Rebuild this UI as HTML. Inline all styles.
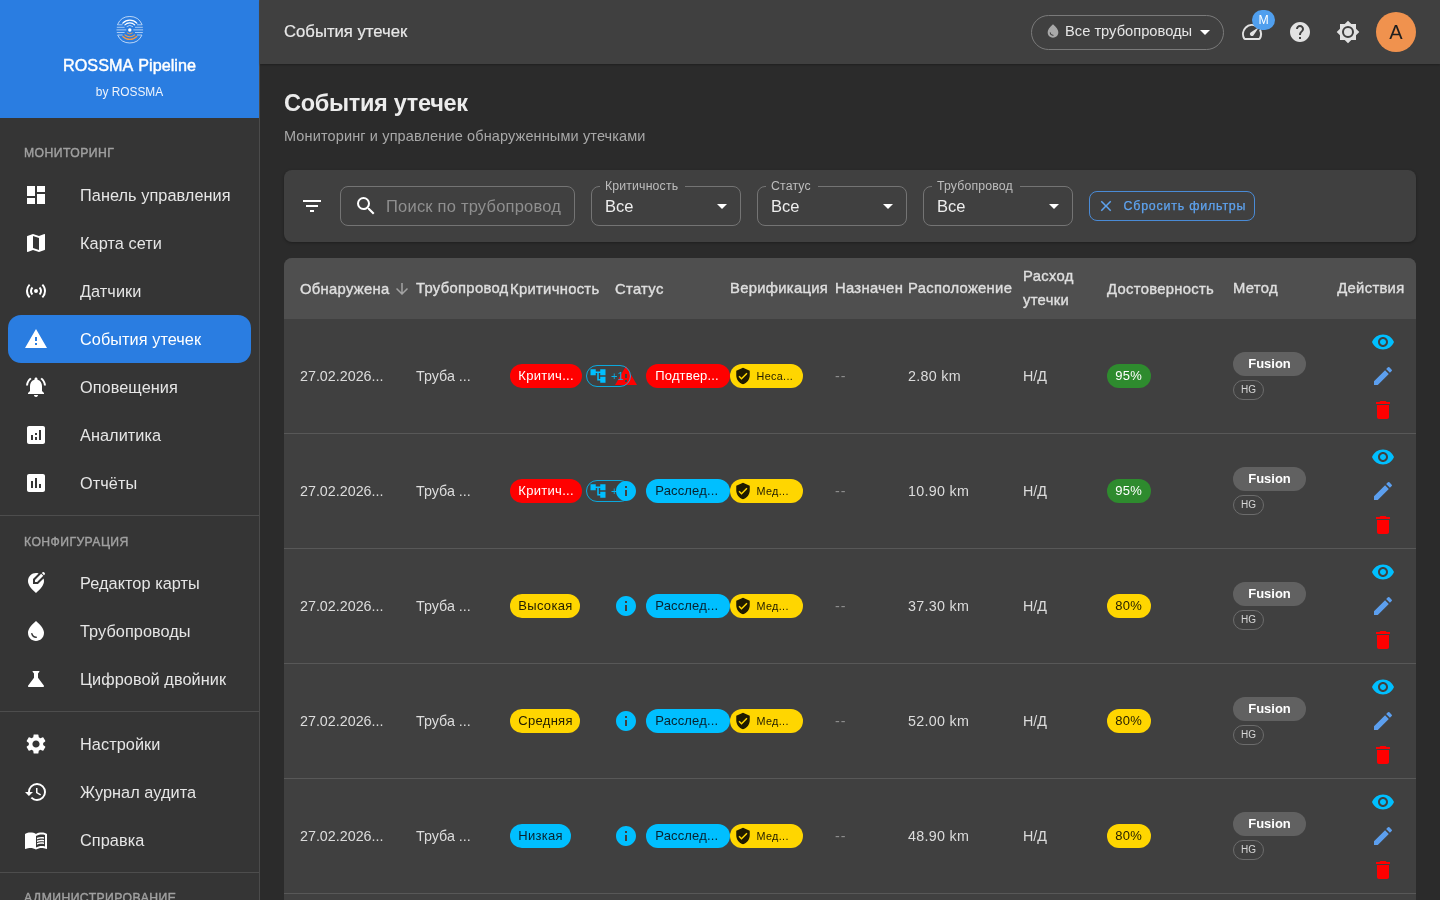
<!DOCTYPE html>
<html lang="ru">
<head>
<meta charset="utf-8">
<title>События утечек — ROSSMA Pipeline</title>
<style>
*{box-sizing:border-box;margin:0;padding:0}
html,body{width:1440px;height:900px;overflow:hidden;background:#2b2b2b;color:#e4e4e4;
  font-family:"Liberation Sans",sans-serif;font-size:16px}
svg{display:block;fill:currentColor}
#nav,#bar,#main{will-change:transform}
.abs{position:absolute}

/* ---------- sidebar ---------- */
#nav{position:absolute;left:0;top:0;width:260px;height:900px;background:#353535;border-right:1px solid #4b4b4b;overflow:hidden}
#brand{position:absolute;left:0;top:0;width:259px;height:118px;background:#2a7de1;color:#fff;text-align:center}
#brand svg.logo{position:absolute;left:116px;top:16px;width:28px;height:28px;fill:none}
#brand .t1{position:absolute;left:0;width:259px;top:55px;font-size:16.200px;font-weight:400;line-height:20px;-webkit-text-stroke:.45px #fff;word-spacing:1.500px}
#brand .t2{position:absolute;left:0;width:259px;top:84px;font-size:11.900px;line-height:16px;color:#f0f5fc}
.sub{position:absolute;left:24px;font-size:12.200px;font-weight:400;color:#a0a0a0;letter-spacing:.43px;line-height:16px;white-space:nowrap;-webkit-text-stroke:.4px #a0a0a0}
.hr{position:absolute;left:0;width:259px;height:1px;background:#4d4d4d}
.item{position:absolute;left:8px;width:243px;height:48px;border-radius:13px;color:#e6e6e6}
.item svg{position:absolute;left:16px;top:12px;width:24px;height:24px;fill:#fff}
.item span{position:absolute;left:72px;top:14.4px;font-size:16.3px;line-height:20px;white-space:nowrap;letter-spacing:.06px}
.item.on{background:#2a7de1;color:#fff}

/* ---------- app bar ---------- */
#bar{position:absolute;left:260px;top:0;width:1180px;height:64px;background:#404040;box-shadow:0 1px 2px rgba(0,0,0,.28)}
#bar .ttl{position:absolute;left:24px;top:21px;font-size:16.700px;line-height:22px;color:#e8e8e8;white-space:nowrap;-webkit-text-stroke:.2px #e8e8e8}
#pipe{position:absolute;left:771px;top:15px;width:193px;height:35px;border:1px solid #7a7a7a;border-radius:18px}
#pipe svg.d{position:absolute;left:13px;top:7px;width:16px;height:16px;fill:#a9a9a9}
#pipe span{position:absolute;left:33px;top:6px;font-size:14.7px;line-height:18px;color:#e6e6e6;white-space:nowrap}
#pipe svg.a{position:absolute;left:161px;top:4px;width:24px;height:24px;fill:#fff}
.tb{position:absolute;top:20px;width:24px;height:24px;fill:#e2e2e2}
#badge{position:absolute;left:992px;top:10px;width:23px;height:20px;border-radius:10px;background:#509fee;color:#fff;font-size:12.300px;line-height:20px;text-align:center}
#ava{position:absolute;left:1116px;top:12px;width:40px;height:40px;border-radius:20px;background:#f0924e;color:#1f1f1f;font-size:20px;line-height:41px;text-align:center}

/* ---------- page ---------- */
#main{position:absolute;left:260px;top:64px;width:1180px;height:836px;overflow:hidden}
h1{position:absolute;left:24px;top:24px;font-size:23.5px;line-height:30px;font-weight:700;color:#ececec;white-space:nowrap;letter-spacing:-.3px}
.lead{position:absolute;left:24px;top:62px;font-size:14.5px;line-height:20px;color:#a8a8a8;white-space:nowrap;letter-spacing:.13px}
#filt{position:absolute;left:24px;top:106px;width:1132px;height:72px;border-radius:8px;background:#404040;box-shadow:0 1px 3px rgba(0,0,0,.3)}
.fld{position:absolute;top:16px;height:40px;border:1px solid #747474;border-radius:8px}
.fld label{position:absolute;left:8px;top:-8px;padding:0 7px 0 5px;background:#404040;font-size:12.3px;line-height:14px;color:#bdbdbd;white-space:nowrap;letter-spacing:.15px}
.fld .v{position:absolute;left:13px;top:9px;font-size:16.5px;line-height:20px;color:#ededed}
.fld svg.a{position:absolute;right:6px;top:7px;width:24px;height:24px;fill:#fff}
#reset{position:absolute;left:805px;top:21px;width:166px;height:30px;border:1px solid #4a8bd6;border-radius:8px;color:#5ea3ef}
#reset svg{position:absolute;left:7px;top:5px;width:18px;height:18px}
#reset span{position:absolute;left:33.500px;top:6px;font-size:12.400px;line-height:16px;font-weight:400;white-space:nowrap;letter-spacing:.81px;-webkit-text-stroke:.25px #5ea3ef}

/* ---------- table ---------- */
#tbl{position:absolute;left:24px;top:194px;width:1132px;height:660px;border-radius:8px 8px 0 0;background:#404040;overflow:hidden}
#thead{position:absolute;left:0;top:0;width:1132px;height:61px;background:#4f4f4f}
#thead b{position:absolute;font-size:14.8px;line-height:24px;font-weight:400;color:#dedede;white-space:nowrap;letter-spacing:.3px;-webkit-text-stroke:.4px #dedede}
.row{position:absolute;left:0;width:1132px;height:115px;border-bottom:1px solid #585858}
.row .c{position:absolute;top:47px;font-size:14.3px;line-height:20px;color:#dcdcdc;white-space:nowrap}
.row .dim{color:#8c8c8c;letter-spacing:1px}
.row .loc{letter-spacing:.3px}
.chip{position:absolute;top:45px;height:24px;border-radius:12px;font-size:13px;line-height:24px;padding-left:8.300px;white-space:nowrap;letter-spacing:.3px;overflow:hidden}
.red{background:#ff0000;color:#fff}
.yel{background:#ffd600;color:#221d00}
.cya{background:#00bfff;color:#08222e}
.grn{background:#2e8b2e;color:#fff}
.clu{position:absolute;left:302px;top:46px;width:45px;height:22px;border:1px solid rgba(0,191,255,.82);border-radius:11px;color:rgba(0,191,255,.9)}
.clu svg{position:absolute;left:2px;top:1px;width:18px;height:18px;fill:#00bfff}
.clu span{position:absolute;left:24px;top:3px;font-size:11px;line-height:14px}
.ic{position:absolute;left:330px;top:45px;width:24px;height:24px}
.ic.warn{fill:#ff0000}
.ic.info{fill:#00bfff}
.ver{padding-left:26.500px;width:73px;font-size:10.800px;letter-spacing:.35px}
.ver svg{position:absolute;left:4px;top:3px;width:18px;height:18px;fill:#1f1a00}
.fus{position:absolute;left:949px;top:33px;width:73px;height:24px;border-radius:12px;background:#616161;color:#fff;font-size:13px;font-weight:700;line-height:24px;text-align:center}
.hg{position:absolute;left:949px;top:61px;width:31px;height:20px;border-radius:10px;border:1px solid #6c6c6c;color:#d6d6d6;font-size:10px;line-height:18px;text-align:center}
.act{position:absolute;left:1087px;width:24px;height:24px}
</style>
</head>
<body>
<div id="nav">
  <div id="brand">
    <svg class="logo" viewBox="0 0 28 28">
      <path d="M1.500 8.700A13.300 13.300 0 0 1 26.100 8.700M1.700 19.200A13.300 13.300 0 0 0 25.900 19.200" stroke="#fff" stroke-opacity=".85" stroke-width=".8"/>
      <g stroke="#fff" stroke-linecap="round">
        <path d="M6.8 7.1A9.8 9.8 0 0 1 20.8 7.100" stroke-width="1.3"/>
        <path d="M8.9 8.8A7.1 7.1 0 0 1 18.7 8.8" stroke-width="1.1"/>
        <path d="M11 10.400A4.500 4.500 0 0 1 16.600 10.400" stroke-width=".8" stroke-opacity=".8"/>
      </g>
      <g stroke="#f39a4a" stroke-linecap="round">
        <path d="M6.800 20.500A9.800 9.800 0 0 0 20.800 20.500" stroke-width="1.300"/>
        <path d="M8.900 18.800A7.100 7.100 0 0 0 18.700 18.800" stroke-width="1.100"/>
        <path d="M11.200 17A4.200 4.200 0 0 0 16.400 17" stroke-width=".9"/>
      </g>
      <circle cx="13.800" cy="14" r="1.700" fill="#fff"/>
      <g stroke="#fff" stroke-opacity=".85" stroke-width=".7">
        <path d="M1.400 8.800H6.600M.800 11.300H8.600M.500 13.900H10.300M.800 16.500H8.600M1.600 19H6.600"/>
        <path d="M21 8.800H26.200M19 11.300H26.800M17.300 13.900H27.100M19 16.500H26.800M21 19H26"/>
      </g>
    </svg>
    <div class="t1">ROSSMA Pipeline</div>
    <div class="t2">by ROSSMA</div>
  </div>

  <div class="sub" style="top:145px">МОНИТОРИНГ</div>
  <div class="item" style="top:171px"><svg viewBox="0 0 24 24"><path d="M3 13h8V3H3v10zm0 8h8v-6H3v6zm10 0h8V11h-8v10zm0-18v6h8V3h-8z"/></svg><span>Панель управления</span></div>
  <div class="item" style="top:219px"><svg viewBox="0 0 24 24"><path d="M20.500 3l-.16.030L15 5.100 9 3 3.360 4.900c-.21.070-.36.250-.36.480V20.500c0 .28.220.5.500.5l.16-.030L9 18.900l6 2.100 5.640-1.900c.21-.070.36-.250.360-.480V3.500c0-.28-.22-.5-.5-.5zM15 19l-6-2.110V5l6 2.110V19z"/></svg><span>Карта сети</span></div>
  <div class="item" style="top:267px"><svg viewBox="0 0 24 24"><path d="M4.930 4.930A9.970 9.970 0 0 0 2 12c0 2.760 1.120 5.260 2.930 7.070l1.410-1.410A7.940 7.940 0 0 1 4 12c0-2.210.89-4.220 2.340-5.660zm14.140 0-1.410 1.410A7.960 7.960 0 0 1 20 12c0 2.220-.89 4.220-2.340 5.660l1.410 1.410A9.970 9.970 0 0 0 22 12c0-2.760-1.120-5.260-2.930-7.070M7.760 7.760A5.980 5.980 0 0 0 6 12c0 1.650.67 3.150 1.760 4.240l1.410-1.410A4 4 0 0 1 8 12c0-1.110.45-2.110 1.170-2.830zm8.480 0-1.410 1.410A4 4 0 0 1 16 12c0 1.110-.45 2.110-1.170 2.830l1.410 1.410A5.980 5.980 0 0 0 18 12c0-1.650-.67-3.150-1.760-4.240M12 10a2 2 0 0 0-2 2 2 2 0 0 0 2 2 2 2 0 0 0 2-2 2 2 0 0 0-2-2"/></svg><span>Датчики</span></div>
  <div class="item on" style="top:315px"><svg viewBox="0 0 24 24"><path d="M1 21h22L12 2 1 21zm12-3h-2v-2h2v2zm0-4h-2v-4h2v4z"/></svg><span>События утечек</span></div>
  <div class="item" style="top:363px"><svg viewBox="0 0 24 24"><path d="M7.580 4.080L6.150 2.650C3.750 4.480 2.170 7.300 2.030 10.500h2c.15-2.650 1.510-4.970 3.550-6.420zm12.390 6.420h2c-.15-3.200-1.730-6.020-4.120-7.850l-1.420 1.430c2.020 1.450 3.390 3.770 3.540 6.420zM18 11c0-3.070-1.640-5.640-4.500-6.320V4c0-.83-.67-1.500-1.500-1.500s-1.500.67-1.500 1.500v.68C7.630 5.360 6 7.920 6 11v5l-2 2v1h16v-1l-2-2v-5zm-6 11c.14 0 .27-.010.4-.040.65-.14 1.180-.58 1.440-1.180.1-.24.150-.5.150-.78h-4c.01 1.100.9 2 2.010 2z"/></svg><span>Оповещения</span></div>
  <div class="item" style="top:411px"><svg viewBox="0 0 24 24"><path d="M19 3H5c-1.100 0-2 .9-2 2v14c0 1.100.9 2 2 2h14c1.100 0 2-.9 2-2V5c0-1.100-.9-2-2-2zM9 17H7v-5h2v5zm4 0h-2v-3h2v3zm0-5h-2v-2h2v2zm4 5h-2V7h2v10z"/></svg><span>Аналитика</span></div>
  <div class="item" style="top:459px"><svg viewBox="0 0 24 24"><path d="M19 3H5c-1.100 0-2 .9-2 2v14c0 1.100.9 2 2 2h14c1.100 0 2-.9 2-2V5c0-1.100-.9-2-2-2zM9 17H7v-7h2v7zm4 0h-2V7h2v10zm4 0h-2v-4h2v4z"/></svg><span>Отчёты</span></div>

  <div class="hr" style="top:515px"></div>
  <div class="sub" style="top:534px">КОНФИГУРАЦИЯ</div>
  <div class="item" style="top:559px"><svg viewBox="0 0 24 24"><path d="M13.950 13H9V8.050l5.610-5.610C13.780 2.160 12.900 2 12 2c-4.200 0-8 3.220-8 8.200 0 3.320 2.670 7.250 8 11.800 5.330-4.550 8-8.480 8-11.800 0-1.010-.16-1.940-.45-2.800L13.950 13z"/><path d="M11 11h2.120l6.160-6.160-2.120-2.120L11 8.880V11zM20.710 2L20 1.290a.996.996 0 0 0-1.410 0l-.72.720 2.120 2.120.72-.72c.39-.39.39-1.020 0-1.410z"/></svg><span>Редактор карты</span></div>
  <div class="item" style="top:607px"><svg viewBox="0 0 24 24"><path d="M12 2c-5.330 4.550-8 8.480-8 11.800 0 4.980 3.800 8.200 8 8.200s8-3.220 8-8.200c0-3.320-2.670-7.250-8-11.800zM7.830 14c.37 0 .67.260.74.620.41 2.220 2.280 2.980 3.640 2.870.43-.020.79.320.79.750 0 .4-.32.730-.72.750-2.130.13-4.620-1.090-5.190-4.120a.75.75 0 0 1 .74-.87z"/></svg><span>Трубопроводы</span></div>
  <div class="item" style="top:655px"><svg viewBox="0 0 24 24"><path d="M19.800 18.400L14 10.670V6.500l1.350-1.690c.26-.33.030-.81-.39-.81H9.040c-.42 0-.65.480-.39.810L10 6.500v4.170L4.200 18.400c-.49.660-.02 1.600.8 1.600h14c.82 0 1.290-.94.800-1.600z"/></svg><span>Цифровой двойник</span></div>

  <div class="hr" style="top:711px"></div>
  <div class="item" style="top:720px"><svg viewBox="0 0 24 24"><path d="M19.140 12.940c.04-.3.060-.61.060-.94 0-.32-.02-.64-.07-.94l2.030-1.580a.49.490 0 0 0 .12-.61l-1.920-3.320a.488.488 0 0 0-.59-.22l-2.390.96c-.5-.38-1.030-.7-1.620-.94l-.36-2.540a.484.484 0 0 0-.48-.41h-3.840c-.24 0-.43.170-.47.410l-.36 2.540c-.59.240-1.130.57-1.620.94l-2.390-.96c-.22-.08-.47 0-.59.220L2.740 8.870c-.12.210-.08.470.12.610l2.030 1.580c-.05.3-.09.630-.09.940s.02.640.07.940l-2.030 1.580a.49.490 0 0 0-.12.610l1.920 3.320c.12.220.37.290.59.220l2.390-.96c.5.380 1.030.7 1.620.94l.36 2.540c.05.240.24.410.48.410h3.840c.24 0 .44-.17.470-.41l.36-2.540c.59-.24 1.130-.56 1.620-.94l2.390.96c.22.080.47 0 .59-.22l1.920-3.320c.12-.22.070-.47-.12-.61l-2.010-1.580zM12 15.600c-1.980 0-3.600-1.620-3.600-3.600s1.620-3.600 3.600-3.600 3.600 1.620 3.600 3.600-1.620 3.600-3.600 3.600z"/></svg><span>Настройки</span></div>
  <div class="item" style="top:768px"><svg viewBox="0 0 24 24"><path d="M13 3a9 9 0 0 0-9 9H1l3.890 3.890.07.140L9 12H6c0-3.870 3.130-7 7-7s7 3.130 7 7-3.130 7-7 7c-1.930 0-3.680-.79-4.940-2.060l-1.420 1.420A8.954 8.954 0 0 0 13 21a9 9 0 0 0 0-18zm-1 5v5l4.280 2.540.72-1.210-3.500-2.080V8H12z"/></svg><span>Журнал аудита</span></div>
  <div class="item" style="top:816px"><svg viewBox="0 0 24 24"><path d="M12 21.500c-1.350-.85-3.800-1.500-5.500-1.500-1.650 0-3.350.3-4.750 1.050-.1.050-.15.050-.25.050-.25 0-.5-.25-.5-.5V6c.6-.45 1.250-.75 2-1 1.110-.35 2.330-.5 3.500-.5 1.950 0 4.050.4 5.500 1.500 1.450-1.100 3.550-1.500 5.500-1.500 1.170 0 2.390.15 3.500.5.750.25 1.400.55 2 1v14.600c0 .25-.25.5-.5.5-.1 0-.15 0-.25-.05-1.400-.75-3.100-1.050-4.750-1.050-1.700 0-4.150.65-5.500 1.500M12 8v11.500c1.350-.85 3.800-1.500 5.500-1.500 1.200 0 2.400.15 3.500.5V7c-1.100-.35-2.300-.5-3.500-.5-1.700 0-4.150.65-5.500 1.500m1 3.500c1.110-.68 2.600-1 4.500-1 .91 0 1.760.09 2.500.28V9.230c-.87-.15-1.710-.23-2.500-.23q-2.655 0-4.500.84zm4.500.17c-1.710 0-3.210.26-4.500.79v1.690c1.110-.65 2.600-.99 4.500-.99 1.040 0 1.880.08 2.500.24v-1.500c-.87-.16-1.710-.23-2.500-.23m2.500 2.900c-.87-.16-1.710-.24-2.500-.24-1.830 0-3.330.27-4.500.8v1.690c1.110-.66 2.600-.99 4.500-.99 1.040 0 1.880.08 2.500.24z"/></svg><span>Справка</span></div>

  <div class="hr" style="top:872px"></div>
  <div class="sub" style="top:890px">АДМИНИСТРИРОВАНИЕ</div>
</div>
<div id="bar">
  <div class="ttl">События утечек</div>
  <div id="pipe">
    <svg class="d" viewBox="0 0 24 24"><path d="M12 2c-5.330 4.550-8 8.480-8 11.800 0 4.980 3.800 8.200 8 8.200s8-3.220 8-8.200c0-3.320-2.670-7.250-8-11.800zM7.830 14c.37 0 .67.260.74.620.41 2.220 2.280 2.980 3.640 2.870.43-.020.79.320.79.750 0 .4-.32.730-.72.750-2.130.13-4.620-1.090-5.190-4.120a.75.75 0 0 1 .74-.87z"/></svg>
    <span>Все трубопроводы</span>
    <svg class="a" viewBox="0 0 24 24"><path d="M7 10l5 5 5-5z"/></svg>
  </div>
  <svg class="tb" style="left:980px" viewBox="0 0 24 24"><path d="M20.380 8.570l-1.230 1.850a8 8 0 0 1-.22 7.580H5.070A8 8 0 0 1 15.580 6.850l1.850-1.230A10 10 0 0 0 3.350 19a2 2 0 0 0 1.720 1h13.850a2 2 0 0 0 1.740-1 10 10 0 0 0-.27-10.440zm-9.790 6.840a2 2 0 0 0 2.830 0l5.660-8.490-8.490 5.660a2 2 0 0 0 0 2.830z"/></svg>
  <div id="badge">M</div>
  <svg class="tb" style="left:1028px" viewBox="0 0 24 24"><path d="M12 2C6.480 2 2 6.480 2 12s4.480 10 10 10 10-4.480 10-10S17.520 2 12 2zm1 17h-2v-2h2v2zm2.070-7.750l-.9.920C13.450 12.900 13 13.500 13 15h-2v-.5c0-1.100.45-2.100 1.170-2.830l1.240-1.260c.37-.36.590-.86.590-1.410 0-1.100-.9-2-2-2s-2 .9-2 2H8c0-2.210 1.790-4 4-4s4 1.790 4 4c0 .88-.36 1.680-.93 2.250z"/></svg>
  <svg class="tb" style="left:1076px" viewBox="0 0 24 24"><path d="M12 8a4 4 0 0 0-4 4 4 4 0 0 0 4 4 4 4 0 0 0 4-4 4 4 0 0 0-4-4m0 10a6 6 0 0 1-6-6 6 6 0 0 1 6-6 6 6 0 0 1 6 6 6 6 0 0 1-6 6m8-9.310V4h-4.690L12 .69 8.690 4H4v4.690L.69 12 4 15.310V20h4.690L12 23.310 15.310 20H20v-4.690L23.310 12z"/></svg>
  <div id="ava">A</div>
</div>
<div id="main">
  <h1>События утечек</h1>
  <div class="lead">Мониторинг и управление обнаруженными утечками</div>
  <div id="filt">
    <svg class="abs" style="left:16px;top:24px;width:24px;height:24px;fill:#fff" viewBox="0 0 24 24"><path d="M10 18h4v-2h-4v2zM3 6v2h18V6H3zm3 7h12v-2H6v2z"/></svg>
    <div class="fld" style="left:56px;width:235px">
      <svg class="abs" style="left:13px;top:7px;width:24px;height:24px;fill:#fff" viewBox="0 0 24 24"><path d="M15.500 14h-.79l-.28-.27A6.471 6.471 0 0 0 16 9.500 6.500 6.500 0 1 0 9.500 16c1.610 0 3.090-.59 4.230-1.570l.27.280v.79l5 4.990L20.490 19l-4.990-5zm-6 0C7.010 14 5 11.990 5 9.500S7.010 5 9.500 5 14 7.010 14 9.500 11.990 14 9.500 14z"/></svg>
      <div class="v" style="left:45px;width:175px;overflow:hidden;color:#8f8f8f;white-space:nowrap;letter-spacing:.21px">Поиск по трубопроводу</div>
    </div>
    <div class="fld" style="left:307px;width:150px"><label>Критичность</label><div class="v">Все</div><svg class="a" viewBox="0 0 24 24"><path d="M7 10l5 5 5-5z"/></svg></div>
    <div class="fld" style="left:473px;width:150px"><label>Статус</label><div class="v">Все</div><svg class="a" viewBox="0 0 24 24"><path d="M7 10l5 5 5-5z"/></svg></div>
    <div class="fld" style="left:639px;width:150px"><label>Трубопровод</label><div class="v">Все</div><svg class="a" viewBox="0 0 24 24"><path d="M7 10l5 5 5-5z"/></svg></div>
    <div id="reset"><svg viewBox="0 0 24 24"><path d="M19 6.410L17.590 5 12 10.590 6.410 5 5 6.410 10.590 12 5 17.590 6.410 19 12 13.410 17.590 19 19 17.590 13.410 12z"/></svg><span>Сбросить фильтры</span></div>
  </div>
  <div id="tbl">
    <div id="thead">
      <b style="left:16px;top:19px">Обнаружена</b>
      <svg class="abs" style="left:109px;top:22px;width:18px;height:18px;fill:#a3a3a3" viewBox="0 0 24 24"><path d="M20 12l-1.410-1.410L13 16.170V4h-2v12.170l-5.580-5.590L4 12l8 8 8-8z"/></svg>
      <b style="left:132px;top:18px">Трубопровод</b>
      <b style="left:226px;top:19px">Критичность</b>
      <b style="left:331px;top:19px">Статус</b>
      <b style="left:446px;top:18px">Верификация</b>
      <b style="left:551px;top:18px">Назначен</b>
      <b style="left:624px;top:18px">Расположение</b>
      <b style="left:739px;top:6px">Расход<br>утечки</b>
      <b style="left:823px;top:19px">Достоверность</b>
      <b style="left:949px;top:18px">Метод</b>
      <b style="right:11.5px;top:18px">Действия</b>
    </div>
    <div class="row" style="top:61px">
      <div class="c" style="left:16px">27.02.2026...</div>
      <div class="c" style="left:132px">Труба ...</div>
      <div class="chip red" style="left:226px;width:72px">Критич...</div>
      <svg class="ic warn" viewBox="0 0 24 24"><path d="M1 21h22L12 2 1 21zm12-3h-2v-2h2v2zm0-4h-2v-4h2v4z"/></svg>
      <div class="clu"><svg viewBox="0 0 24 24"><path d="M22 11V3h-7v3H9V3H2v8h7V8h2v10h4v3h7v-8h-7v3h-2V8h2v3z"/></svg><span>+1</span></div>
      <div class="chip red" style="left:362px;width:84px;letter-spacing:.15px;padding-left:9.300px">Подтвер...</div>
      <div class="chip yel ver" style="left:446px"><svg viewBox="0 0 24 24"><path d="M12 1L3 5v6c0 5.550 3.840 10.740 9 12 5.160-1.260 9-6.450 9-12V5l-9-4zm-2 16l-4-4 1.410-1.410L10 14.170l6.590-6.590L18 9l-8 8z"/></svg><span>Неса...</span></div>
      <div class="c dim" style="left:551px">--</div>
      <div class="c loc" style="left:624px">2.80 km</div>
      <div class="c" style="left:739px">Н/Д</div>
      <div class="chip grn" style="left:823px;width:44px">95%</div>
      <div class="fus">Fusion</div>
      <div class="hg">HG</div>
      <svg class="act" style="top:11px;fill:#00bfff" viewBox="0 0 24 24"><path d="M12 4.500C7 4.500 2.730 7.610 1 12c1.730 4.390 6 7.500 11 7.500s9.270-3.110 11-7.500c-1.730-4.390-6-7.500-11-7.500zM12 17c-2.760 0-5-2.240-5-5s2.240-5 5-5 5 2.240 5 5-2.240 5-5 5zm0-8c-1.660 0-3 1.340-3 3s1.340 3 3 3 3-1.340 3-3-1.340-3-3-3z"/></svg>
      <svg class="act" style="top:45px;fill:#5c9fee" viewBox="0 0 24 24"><path d="M3 17.250V21h3.750L17.810 9.940l-3.750-3.750L3 17.250zM20.710 7.040a.996.996 0 0 0 0-1.410l-2.340-2.340a.996.996 0 0 0-1.410 0l-1.830 1.830 3.750 3.750 1.830-1.830z"/></svg>
      <svg class="act" style="top:79px;fill:#ff0000" viewBox="0 0 24 24"><path d="M6 19c0 1.100.9 2 2 2h8c1.100 0 2-.9 2-2V7H6v12zM19 4h-3.500l-1-1h-5l-1 1H5v2h14V4z"/></svg>
    </div>
    <div class="row" style="top:176px">
      <div class="c" style="left:16px">27.02.2026...</div>
      <div class="c" style="left:132px">Труба ...</div>
      <div class="chip red" style="left:226px;width:72px">Критич...</div>
      <svg class="ic info" viewBox="0 0 24 24"><path d="M12 2C6.480 2 2 6.480 2 12s4.480 10 10 10 10-4.480 10-10S17.520 2 12 2zm1 15h-2v-6h2v6zm0-8h-2V7h2v2z"/></svg>
      <div class="clu"><svg viewBox="0 0 24 24"><path d="M22 11V3h-7v3H9V3H2v8h7V8h2v10h4v3h7v-8h-7v3h-2V8h2v3z"/></svg><span>+1</span></div>
      <div class="chip cya" style="left:362px;width:84px;letter-spacing:.15px;padding-left:9.300px">Расслед...</div>
      <div class="chip yel ver" style="left:446px"><svg viewBox="0 0 24 24"><path d="M12 1L3 5v6c0 5.550 3.840 10.740 9 12 5.160-1.260 9-6.450 9-12V5l-9-4zm-2 16l-4-4 1.410-1.410L10 14.170l6.590-6.590L18 9l-8 8z"/></svg><span>Мед...</span></div>
      <div class="c dim" style="left:551px">--</div>
      <div class="c loc" style="left:624px">10.90 km</div>
      <div class="c" style="left:739px">Н/Д</div>
      <div class="chip grn" style="left:823px;width:44px">95%</div>
      <div class="fus">Fusion</div>
      <div class="hg">HG</div>
      <svg class="act" style="top:11px;fill:#00bfff" viewBox="0 0 24 24"><path d="M12 4.500C7 4.500 2.730 7.610 1 12c1.730 4.390 6 7.500 11 7.500s9.270-3.110 11-7.500c-1.730-4.390-6-7.500-11-7.500zM12 17c-2.760 0-5-2.240-5-5s2.240-5 5-5 5 2.240 5 5-2.240 5-5 5zm0-8c-1.660 0-3 1.340-3 3s1.340 3 3 3 3-1.340 3-3-1.340-3-3-3z"/></svg>
      <svg class="act" style="top:45px;fill:#5c9fee" viewBox="0 0 24 24"><path d="M3 17.250V21h3.750L17.810 9.940l-3.750-3.750L3 17.250zM20.710 7.040a.996.996 0 0 0 0-1.410l-2.340-2.340a.996.996 0 0 0-1.410 0l-1.830 1.830 3.750 3.750 1.830-1.830z"/></svg>
      <svg class="act" style="top:79px;fill:#ff0000" viewBox="0 0 24 24"><path d="M6 19c0 1.100.9 2 2 2h8c1.100 0 2-.9 2-2V7H6v12zM19 4h-3.500l-1-1h-5l-1 1H5v2h14V4z"/></svg>
    </div>
    <div class="row" style="top:291px">
      <div class="c" style="left:16px">27.02.2026...</div>
      <div class="c" style="left:132px">Труба ...</div>
      <div class="chip yel" style="left:226px;width:70px">Высокая</div>
      <svg class="ic info" viewBox="0 0 24 24"><path d="M12 2C6.480 2 2 6.480 2 12s4.480 10 10 10 10-4.480 10-10S17.520 2 12 2zm1 15h-2v-6h2v6zm0-8h-2V7h2v2z"/></svg>
      <div class="chip cya" style="left:362px;width:84px;letter-spacing:.15px;padding-left:9.300px">Расслед...</div>
      <div class="chip yel ver" style="left:446px"><svg viewBox="0 0 24 24"><path d="M12 1L3 5v6c0 5.550 3.840 10.740 9 12 5.160-1.260 9-6.450 9-12V5l-9-4zm-2 16l-4-4 1.410-1.410L10 14.170l6.590-6.590L18 9l-8 8z"/></svg><span>Мед...</span></div>
      <div class="c dim" style="left:551px">--</div>
      <div class="c loc" style="left:624px">37.30 km</div>
      <div class="c" style="left:739px">Н/Д</div>
      <div class="chip yel" style="left:823px;width:44px">80%</div>
      <div class="fus">Fusion</div>
      <div class="hg">HG</div>
      <svg class="act" style="top:11px;fill:#00bfff" viewBox="0 0 24 24"><path d="M12 4.500C7 4.500 2.730 7.610 1 12c1.730 4.390 6 7.500 11 7.500s9.270-3.110 11-7.500c-1.730-4.390-6-7.500-11-7.500zM12 17c-2.760 0-5-2.240-5-5s2.240-5 5-5 5 2.240 5 5-2.240 5-5 5zm0-8c-1.660 0-3 1.340-3 3s1.340 3 3 3 3-1.340 3-3-1.340-3-3-3z"/></svg>
      <svg class="act" style="top:45px;fill:#5c9fee" viewBox="0 0 24 24"><path d="M3 17.250V21h3.750L17.810 9.940l-3.750-3.750L3 17.250zM20.710 7.040a.996.996 0 0 0 0-1.410l-2.340-2.340a.996.996 0 0 0-1.410 0l-1.830 1.830 3.750 3.750 1.830-1.830z"/></svg>
      <svg class="act" style="top:79px;fill:#ff0000" viewBox="0 0 24 24"><path d="M6 19c0 1.100.9 2 2 2h8c1.100 0 2-.9 2-2V7H6v12zM19 4h-3.500l-1-1h-5l-1 1H5v2h14V4z"/></svg>
    </div>
    <div class="row" style="top:406px">
      <div class="c" style="left:16px">27.02.2026...</div>
      <div class="c" style="left:132px">Труба ...</div>
      <div class="chip yel" style="left:226px;width:70px">Средняя</div>
      <svg class="ic info" viewBox="0 0 24 24"><path d="M12 2C6.480 2 2 6.480 2 12s4.480 10 10 10 10-4.480 10-10S17.520 2 12 2zm1 15h-2v-6h2v6zm0-8h-2V7h2v2z"/></svg>
      <div class="chip cya" style="left:362px;width:84px;letter-spacing:.15px;padding-left:9.300px">Расслед...</div>
      <div class="chip yel ver" style="left:446px"><svg viewBox="0 0 24 24"><path d="M12 1L3 5v6c0 5.550 3.840 10.740 9 12 5.160-1.260 9-6.450 9-12V5l-9-4zm-2 16l-4-4 1.410-1.410L10 14.170l6.590-6.590L18 9l-8 8z"/></svg><span>Мед...</span></div>
      <div class="c dim" style="left:551px">--</div>
      <div class="c loc" style="left:624px">52.00 km</div>
      <div class="c" style="left:739px">Н/Д</div>
      <div class="chip yel" style="left:823px;width:44px">80%</div>
      <div class="fus">Fusion</div>
      <div class="hg">HG</div>
      <svg class="act" style="top:11px;fill:#00bfff" viewBox="0 0 24 24"><path d="M12 4.500C7 4.500 2.730 7.610 1 12c1.730 4.390 6 7.500 11 7.500s9.270-3.110 11-7.500c-1.730-4.390-6-7.500-11-7.500zM12 17c-2.760 0-5-2.240-5-5s2.240-5 5-5 5 2.240 5 5-2.240 5-5 5zm0-8c-1.660 0-3 1.340-3 3s1.340 3 3 3 3-1.340 3-3-1.340-3-3-3z"/></svg>
      <svg class="act" style="top:45px;fill:#5c9fee" viewBox="0 0 24 24"><path d="M3 17.250V21h3.750L17.810 9.940l-3.750-3.750L3 17.250zM20.710 7.040a.996.996 0 0 0 0-1.410l-2.340-2.340a.996.996 0 0 0-1.410 0l-1.830 1.830 3.750 3.750 1.830-1.830z"/></svg>
      <svg class="act" style="top:79px;fill:#ff0000" viewBox="0 0 24 24"><path d="M6 19c0 1.100.9 2 2 2h8c1.100 0 2-.9 2-2V7H6v12zM19 4h-3.500l-1-1h-5l-1 1H5v2h14V4z"/></svg>
    </div>
    <div class="row" style="top:521px">
      <div class="c" style="left:16px">27.02.2026...</div>
      <div class="c" style="left:132px">Труба ...</div>
      <div class="chip cya" style="left:226px;width:61px">Низкая</div>
      <svg class="ic info" viewBox="0 0 24 24"><path d="M12 2C6.480 2 2 6.480 2 12s4.480 10 10 10 10-4.480 10-10S17.520 2 12 2zm1 15h-2v-6h2v6zm0-8h-2V7h2v2z"/></svg>
      <div class="chip cya" style="left:362px;width:84px;letter-spacing:.15px;padding-left:9.300px">Расслед...</div>
      <div class="chip yel ver" style="left:446px"><svg viewBox="0 0 24 24"><path d="M12 1L3 5v6c0 5.550 3.840 10.740 9 12 5.160-1.260 9-6.450 9-12V5l-9-4zm-2 16l-4-4 1.410-1.410L10 14.170l6.590-6.590L18 9l-8 8z"/></svg><span>Мед...</span></div>
      <div class="c dim" style="left:551px">--</div>
      <div class="c loc" style="left:624px">48.90 km</div>
      <div class="c" style="left:739px">Н/Д</div>
      <div class="chip yel" style="left:823px;width:44px">80%</div>
      <div class="fus">Fusion</div>
      <div class="hg">HG</div>
      <svg class="act" style="top:11px;fill:#00bfff" viewBox="0 0 24 24"><path d="M12 4.500C7 4.500 2.730 7.610 1 12c1.730 4.390 6 7.500 11 7.500s9.270-3.110 11-7.500c-1.730-4.390-6-7.500-11-7.500zM12 17c-2.760 0-5-2.240-5-5s2.240-5 5-5 5 2.240 5 5-2.240 5-5 5zm0-8c-1.660 0-3 1.340-3 3s1.340 3 3 3 3-1.340 3-3-1.340-3-3-3z"/></svg>
      <svg class="act" style="top:45px;fill:#5c9fee" viewBox="0 0 24 24"><path d="M3 17.250V21h3.750L17.810 9.940l-3.750-3.750L3 17.250zM20.710 7.040a.996.996 0 0 0 0-1.410l-2.340-2.340a.996.996 0 0 0-1.410 0l-1.830 1.830 3.750 3.750 1.830-1.830z"/></svg>
      <svg class="act" style="top:79px;fill:#ff0000" viewBox="0 0 24 24"><path d="M6 19c0 1.100.9 2 2 2h8c1.100 0 2-.9 2-2V7H6v12zM19 4h-3.500l-1-1h-5l-1 1H5v2h14V4z"/></svg>
    </div>
  </div>
</div>
</body>
</html>
